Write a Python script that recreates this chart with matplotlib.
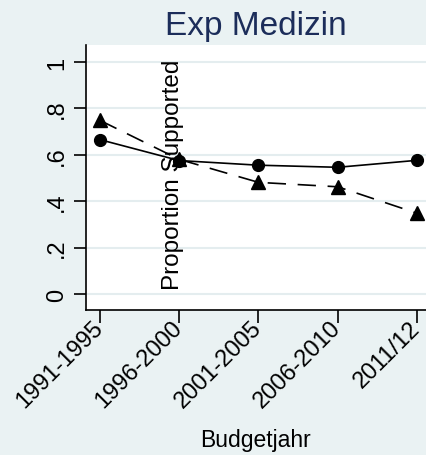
import matplotlib
matplotlib.use("Agg")
import matplotlib.pyplot as plt

periods = ["1991-1995", "1996-2000", "2001-2005", "2006-2010", "2011/12"]
series_circle = [0.665, 0.575, 0.555, 0.546, 0.576]
series_triangle = [0.748, 0.580, 0.481, 0.462, 0.348]
yticks = [0, 0.2, 0.4, 0.6, 0.8, 1.0]
ytick_labels = ["0", ".2", ".4", ".6", ".8", "1"]

bg = "#EAF2F3"
plt.rcParams["font.family"] = ["Liberation Sans", "DejaVu Sans"]

fig = plt.figure(figsize=(4.26, 4.56), dpi=100, facecolor=bg)
ax = fig.add_axes([86/426, 1-311/456, 340/426, 265/456])
ax.set_facecolor("white")

x = list(range(len(periods)))
ax.plot(x, series_circle, color="black", lw=1.2, marker="o", ms=8.5, zorder=3)
ax.plot(x, series_triangle, color="black", lw=1.2, ls=(0, (11, 7)), marker="^", ms=9.5, zorder=3)

ax.set_xlim(-0.177, 4.114)
ax.set_ylim(-0.069, 1.073)
ax.set_xticks(x)
ax.set_xticklabels(periods, rotation=45, ha="right", va="center", rotation_mode="anchor", fontsize=17)
ax.set_yticks(yticks)
ax.set_yticklabels(ytick_labels, fontsize=17)
for lbl in ax.get_yticklabels():
    lbl.set_rotation(90)
    lbl.set_va("center")
    lbl.set_ha("center")

ax.tick_params(axis="both", length=9, width=1.2, color="black")
ax.tick_params(axis="x", pad=1.2)
ax.tick_params(axis="y", pad=12)
ax.grid(axis="y", color="#E4EDEF", lw=1.5)
ax.set_axisbelow(True)
for s in ["top", "right"]:
    ax.spines[s].set_visible(False)
for s in ["left", "bottom"]:
    ax.spines[s].set_linewidth(1.2)

ax.set_ylabel("Proportion Supported", fontsize=17.5)
ax.yaxis.set_label_coords(0.287, 0.513)
ax.set_xlabel("Budgetjahr", fontsize=16.5, va="top")
ax.xaxis.set_label_coords(0.5, -0.445)
ax.set_title("Exp Medizin", fontsize=24, color="#1c2d5a", pad=8)

fig.savefig("out.png", dpi=100, facecolor=bg)
